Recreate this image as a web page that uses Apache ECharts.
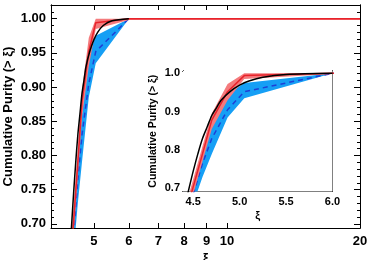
<!DOCTYPE html>
<html><head><meta charset="utf-8">
<script src="https://cdn.jsdelivr.net/npm/echarts@6/dist/echarts.min.js"></script>
<style>html,body{margin:0;padding:0;background:#fff}#c{width:367px;height:260px}</style>
</head><body><div id="c"></div>
<script>
// ---- data ----
const xiBlack = [4.44, 4.5, 4.55, 4.6, 4.65, 4.7, 4.75, 4.8, 4.9, 5.0, 5.1, 5.25, 5.5, 6.0];
const purityBlack = [0.685, 0.745, 0.79, 0.83, 0.86, 0.89, 0.91, 0.93, 0.953, 0.969, 0.98, 0.99, 0.997, 1.0];
const xiRed = [4.46, 4.6, 4.7, 4.87, 5.05, 6.0, 20];
const purityRed = [0.67, 0.79, 0.878, 0.952, 0.994, 1.0, 1.0];
const redLow = [0.65, 0.77, 0.855, 0.93, 0.985, 0.998, 0.998];
const redHigh = [0.69, 0.81, 0.895, 0.972, 1.0, 1.0, 1.0];
const xiBlue = [4.5, 4.6, 4.7, 4.87, 5.05, 6.0, 20];
const purityBlue = [0.685, 0.765, 0.83, 0.905, 0.952, 1.0, 1.0];
const blueLow = [0.66, 0.73, 0.79, 0.885, 0.935, 1.0, 1.0];
const blueHigh = [0.70, 0.79, 0.86, 0.945, 0.975, 1.0, 1.0];
// tick labels
const mainXTicks = [5, 6, 7, 8, 9, 10, 20];
const mainYTicks = [0.70, 0.75, 0.80, 0.85, 0.90, 0.95, 1.00];
const insetXTicks = [4.5, 5.0, 5.5, 6.0];
const insetYTicks = [0.7, 0.8, 0.9, 1.0];
const yTitle = 'Cumulative Purity (> ξ)';
const xTitle = 'ξ';

const mainYMinor = []; for (let i = 70; i <= 101; i++) mainYMinor.push(i / 100);
const insetYMinor = []; for (let i = 70; i <= 100; i += 2) insetYMinor.push(i / 100);
const insetXMinor = []; for (let i = 44; i <= 60; i++) insetXMinor.push(i / 10);

const FONT = '"Liberation Sans", Arial, Helvetica, sans-serif';
const pair = (xs, ys) => xs.map((x, i) => [x, ys[i]]);

function axis(o) {
  return {
    type: o.type || 'value', gridIndex: o.grid, position: o.pos,
    min: o.min, max: o.max, logBase: o.logBase,
    name: o.name || '', nameLocation: 'middle', nameGap: o.nameGap || 0,
    nameMoveOverlap: o.moveOverlap !== undefined ? o.moveOverlap : true,
    nameTextStyle: { fontFamily: FONT, fontWeight: 'bold', fontSize: o.nameSize || 12, color: '#000' },
    axisLine: { show: true, onZero: false, lineStyle: { color: '#000', width: 1 } },
    axisTick: { show: true, inside: true, length: o.tickLen || 5, customValues: o.ticks,
                lineStyle: { color: '#000', width: 1 } },
    axisLabel: o.labels ? { show: true, customValues: o.ticks, fontFamily: FONT, fontWeight: 'bold',
                fontSize: o.fontSize, color: '#000', margin: o.margin, formatter: o.fmt,
                showMinLabel: true, showMaxLabel: true, hideOverlap: false } : { show: false },
    splitLine: { show: false }, minorTick: { show: false }, minorSplitLine: { show: false }
  };
}

const xAxes = [
  axis({ type: 'log', logBase: 10, grid: 0, pos: 'bottom', min: 4, max: 20, ticks: mainXTicks, labels: true,
         fontSize: 13, margin: 7, fmt: v => String(Math.round(v)), name: xTitle, nameGap: 22, nameSize: 14 }),
  axis({ type: 'log', logBase: 10, grid: 0, pos: 'top', min: 4, max: 20, ticks: mainXTicks }),
  axis({ grid: 1, pos: 'bottom', min: 4.39, max: 6.0, ticks: insetXTicks, labels: true, fontSize: 11, margin: 5,
         fmt: v => v.toFixed(1), name: xTitle, nameGap: 19, nameSize: 11, tickLen: 4 }),
  axis({ grid: 1, pos: 'bottom', min: 4.39, max: 6.0, ticks: insetXMinor, tickLen: 2 }),
  axis({ grid: 1, pos: 'top', min: 4.39, max: 6.0, ticks: insetXTicks, tickLen: 4 }),
  axis({ grid: 1, pos: 'top', min: 4.39, max: 6.0, ticks: insetXMinor, tickLen: 2 })
];
const yAxes = [
  axis({ grid: 0, pos: 'left', min: 0.694, max: 1.02, ticks: mainYTicks, labels: true, fontSize: 13, margin: 5,
         fmt: v => v.toFixed(2), name: yTitle, nameGap: 36, nameSize: 13, tickLen: 6, moveOverlap: false }),
  axis({ grid: 0, pos: 'left', min: 0.694, max: 1.02, ticks: mainYMinor, tickLen: 3 }),
  axis({ grid: 0, pos: 'right', min: 0.694, max: 1.02, ticks: mainYTicks, tickLen: 6 }),
  axis({ grid: 0, pos: 'right', min: 0.694, max: 1.02, ticks: mainYMinor, tickLen: 3 }),
  axis({ grid: 1, pos: 'left', min: 0.692, max: 1.006, ticks: insetYTicks, labels: true, fontSize: 11, margin: 3,
         fmt: v => v.toFixed(1), name: yTitle, nameGap: 24, nameSize: 10.5, tickLen: 4, moveOverlap: false }),
  axis({ grid: 1, pos: 'left', min: 0.692, max: 1.006, ticks: insetYMinor, tickLen: 2 }),
  axis({ grid: 1, pos: 'right', min: 0.692, max: 1.006, ticks: insetYTicks, tickLen: 4 }),
  axis({ grid: 1, pos: 'right', min: 0.692, max: 1.006, ticks: insetYMinor, tickLen: 2 })
];

const RED = '#e8232b', RED_BAND = '#f47b7d', BLUE = '#1f3fd6', BLUE_BAND = '#169ff5';

function band(xi, yi, xs, lo, hi, color, z) {
  return {
    type: 'custom', xAxisIndex: xi, yAxisIndex: yi, clip: true, silent: true, z: z, animation: false,
    data: xs.map((x, i) => [x, lo[i], hi[i]]),
    encode: { x: 0, y: [1, 2] },
    renderItem: function (params, api) {
      if (params.dataIndex !== 0) return null;
      const pts = [];
      for (let i = 0; i < xs.length; i++) pts.push(api.coord([xs[i], hi[i]]));
      for (let i = xs.length - 1; i >= 0; i--) pts.push(api.coord([xs[i], lo[i]]));
      return { type: 'polygon', shape: { points: pts }, style: { fill: color, stroke: null } };
    }
  };
}

function seriesFor(xi, yi, zb) {
  const base = { type: 'line', xAxisIndex: xi, yAxisIndex: yi, symbol: 'none', silent: true, animation: false, clip: true };
  return [
    band(xi, yi, xiBlue, blueLow, blueHigh, BLUE_BAND, zb + 1),
    Object.assign({}, base, { data: pair(xiBlue, purityBlue), lineStyle: { color: BLUE, width: 1.5, type: [5, 4] }, z: zb + 2 }),
    band(xi, yi, xiRed, redLow, redHigh, RED_BAND, zb + 3),
    Object.assign({}, base, { data: pair(xiRed, purityRed), lineStyle: { color: RED, width: 1.5 }, z: zb + 4 }),
    Object.assign({}, base, { data: pair(xiBlack, purityBlack), smooth: 0.3, lineStyle: { color: '#000', width: 1.5 }, z: zb + 5 })
  ];
}

const chart = echarts.init(document.getElementById('c'), null, { renderer: 'canvas' });
chart.setOption({
  animation: false,
  backgroundColor: '#fff',
  grid: [
    { left: 51, right: 7, top: 5, bottom: 32, containLabel: false, outerBoundsMode: 'none' },
    { left: 183, right: 34.5, top: 71, bottom: 68.5, containLabel: false, outerBoundsMode: 'none',
      show: true, backgroundColor: '#fff', borderWidth: 0, z: 10 }
  ],
  xAxis: xAxes,
  yAxis: yAxes,
  series: [].concat(seriesFor(0, 0, 0), seriesFor(2, 4, 20))
});
</script>
</body></html>
